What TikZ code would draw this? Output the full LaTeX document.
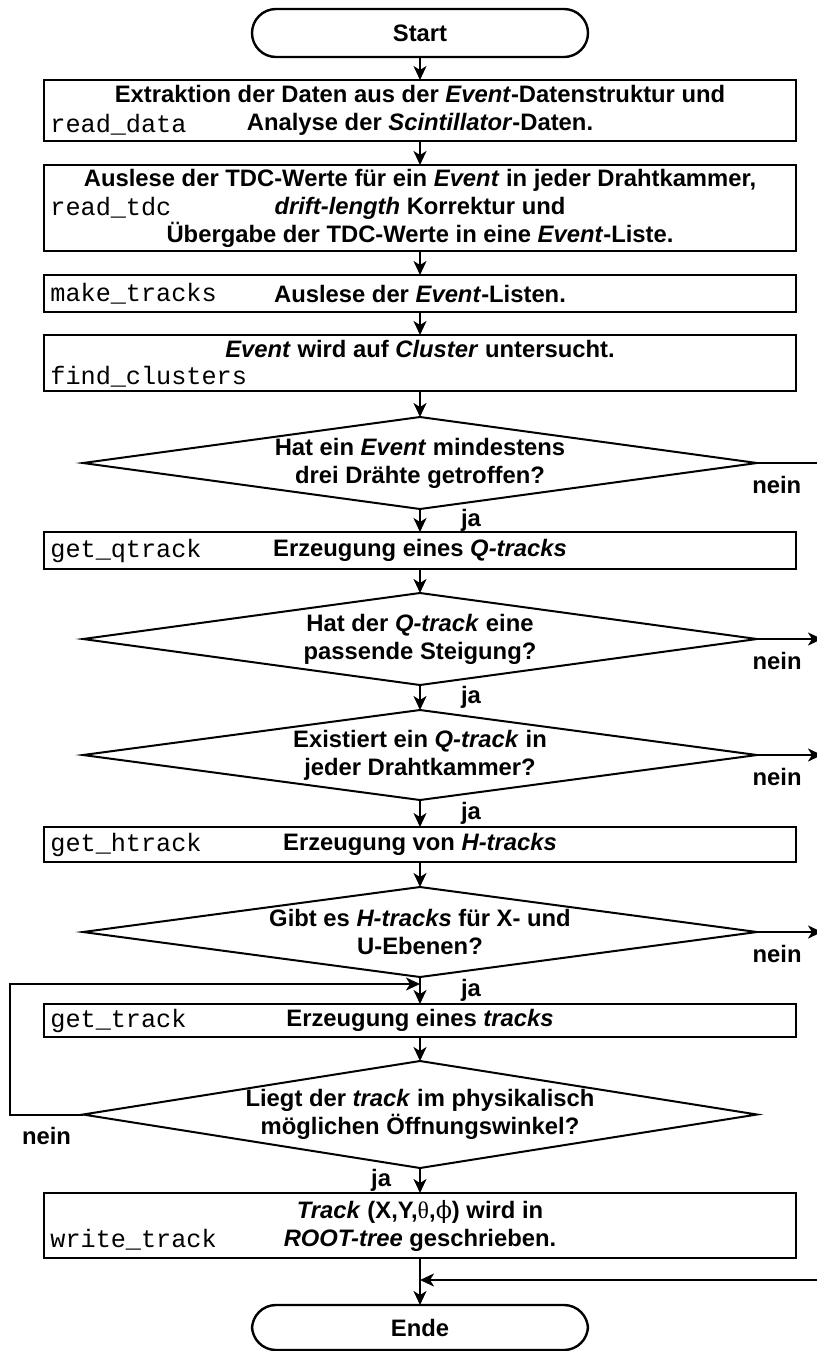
\documentclass[tikz,border=0pt]{standalone}
\usepackage{fontspec}
\setmainfont{Liberation Sans}
\setmonofont{Liberation Mono}
\newfontfamily\greekfont{Liberation Serif}
\newfontfamily\phifont{DejaVu Serif}
\usepackage{tikz}
\usetikzlibrary{arrows.meta, positioning, shapes.geometric}
\newcommand{\chartfont}{\fontsize{11.9pt}{14pt}\selectfont}
\tikzset{%
	term/.style={draw, rectangle, rounded corners=12pt, minimum width=168pt,%
		minimum height=24pt, outer sep=0pt, line width=1.2pt, font=\chartfont\bfseries},
	proc/.style={draw, rectangle, minimum width=376pt, inner sep=0pt, outer sep=0pt,%
		align=center, line width=1.2pt, font=\chartfont\bfseries},
	dec/.style={draw, diamond, aspect=7.3, inner sep=0pt, outer sep=0pt,%
		minimum width=337pt, minimum height=46pt, line width=1pt},
	dectext/.style={align=center, inner sep=0pt, font=\chartfont\bfseries},
	fname/.style={font=\fontsize{12.6pt}{14pt}\selectfont\ttfamily, inner sep=0pt},
	lbl/.style={font=\chartfont\bfseries, inner sep=1pt},
	sel/.style={-{Stealth[length=7pt, width=6.5pt, inset=2pt]}, line width=1pt},
	conn/.style={line width=1pt}
}

\begin{document}
\begin{tikzpicture}[x=0.5pt, y=-0.5pt]
	\useasboundingbox (0,0) rectangle (816,1351);

	\node[term] (start) at (420,33) {Start};
	\node[proc, minimum height=30.5pt, below=11.5pt of start] (rd)
		{Extraktion der Daten aus der \textit{Event}-Datenstruktur und\\
		Analyse der \textit{Scintillator}-Daten.};
	\node[proc, minimum height=43pt, below=12pt of rd] (tdc)
		{Auslese der TDC-Werte für ein \textit{Event} in jeder Drahtkammer,\\
		\textit{drift-length} Korrektur und\\
		Übergabe der TDC-Werte in eine \textit{Event}-Liste.};
	\node[proc, minimum height=18.5pt, below=12pt of tdc] (mk)
		{Auslese der \textit{Event}-Listen.};
	\node[proc, minimum height=28pt, below=11.5pt of mk] (fc)
		{\textit{Event} wird auf \textit{Cluster} untersucht.\\ \mbox{}};
	\node[dec, below=13pt of fc] (d1) {};
	\node[dectext] (d1t) at (d1) {Hat ein \textit{Event} mindestens\\drei Drähte getroffen?};
	\node[proc, minimum height=18.5pt, below=11.5pt of d1] (gq)
		{Erzeugung eines \textit{Q-tracks}};
	\node[dec, below=12pt of gq] (d2) {};
	\node[dectext] (d2t) at (d2) {Hat der \textit{Q-track} eine\\passende Steigung?};
	\node[dec, minimum height=45pt, below=12.5pt of d2] (d3) {};
	\node[dectext] (d3t) at (d3) {Existiert ein \textit{Q-track} in\\jeder Drahtkammer?};
	\node[proc, minimum height=17.5pt, below=13.5pt of d3] (gh)
		{Erzeugung von \textit{H-tracks}};
	\node[dec, minimum height=45pt, below=12.5pt of gh] (d4) {};
	\node[dectext] (d4t) at (d4) {Gibt es \textit{H-tracks} für X- und\\U-Ebenen?};
	\node[proc, minimum height=16.5pt, below=13.5pt of d4] (gt)
		{Erzeugung eines \textit{tracks}};
	\node[dec, minimum height=53.5pt, below=12pt of gt] (d5) {};
	\node[dectext] (d5t) at (d5) {Liegt der \textit{track} im physikalisch\\möglichen Öffnungswinkel?};
	\node[proc, minimum height=32.5pt, below=12.5pt of d5] (wt)
		{\textit{Track} (X,Y,{\greekfont\mdseries θ},{\phifont\mdseries ϕ}) wird in\\
		\textit{ROOT-tree} geschrieben.};
	\node[term, minimum height=22.5pt, below=23.5pt of wt] (ende) {Ende};

	% function names
	\node[fname, right=3pt of rd.west, yshift=-7pt, anchor=west] (rdl) {read\_data};
	\node[fname, right=3pt of tdc.west, anchor=west] (tdcl) {read\_tdc};
	\node[fname, right=3pt of mk.west, anchor=west] (mkl) {make\_tracks};
	\node[fname, right=3pt of fc.west, yshift=-7pt, anchor=west] (fcl) {find\_clusters};
	\node[fname, right=3pt of gq.west, anchor=west] (gql) {get\_qtrack};
	\node[fname, right=3pt of gh.west, anchor=west] (ghl) {get\_htrack};
	\node[fname, right=3pt of gt.west, anchor=west] (gtl) {get\_track};
	\node[fname, right=3pt of wt.west, yshift=-7pt, anchor=west] (wtl) {write\_track};

	% main line
	\draw[sel] (start) -- (rd);
	\draw[sel] (rd) -- (tdc);
	\draw[sel] (tdc) -- (mk);
	\draw[sel] (mk) -- (fc);
	\draw[sel] (fc) -- (d1);
	\draw[sel] (d1) -- node[lbl, right=19pt] {ja} (gq);
	\draw[sel] (gq) -- (d2);
	\draw[sel] (d2) -- node[lbl, right=19pt] {ja} (d3);
	\draw[sel] (d3) -- node[lbl, right=19pt] {ja} (gh);
	\draw[sel] (gh) -- (d4);
	\draw[sel] (d4) -- node[lbl, right=19pt] {ja} (gt);
	\draw[sel] (gt) -- (d5);
	\draw[sel] (d5) -- node[lbl, left=13pt] {ja} (wt);
	\draw[sel] (wt) -- (ende);

	% nein branches
	\coordinate[right=36.5pt of d1.east] (x1);
	\coordinate[right=32.5pt of d2.east] (x2);
	\coordinate[right=32.5pt of d3.east] (x3);
	\coordinate[right=32.5pt of d4.east] (x4);
	\draw[conn] (d1.east) -- node[lbl, below=5pt, pos=0.27] {nein} (x1);
	\draw[sel] (d2.east) -- node[lbl, below=5pt, pos=0.31] {nein} (x2);
	\draw[sel] (d3.east) -- node[lbl, below=5pt, pos=0.31] {nein} (x3);
	\draw[sel] (d4.east) -- node[lbl, below=5pt, pos=0.31] {nein} (x4);

	\coordinate[below=3.5pt of d4.south] (jn);
	\coordinate[left=36.5pt of d5.west] (lp);
	\draw[sel] (d5.west) -- node[lbl, below=5pt] {nein} (lp) |- (jn);

	\coordinate[below=11pt of wt.south] (merge);
	\coordinate (back) at (merge -| x1);
	\draw[sel] (back) -- (merge);
\end{tikzpicture}
\end{document}
